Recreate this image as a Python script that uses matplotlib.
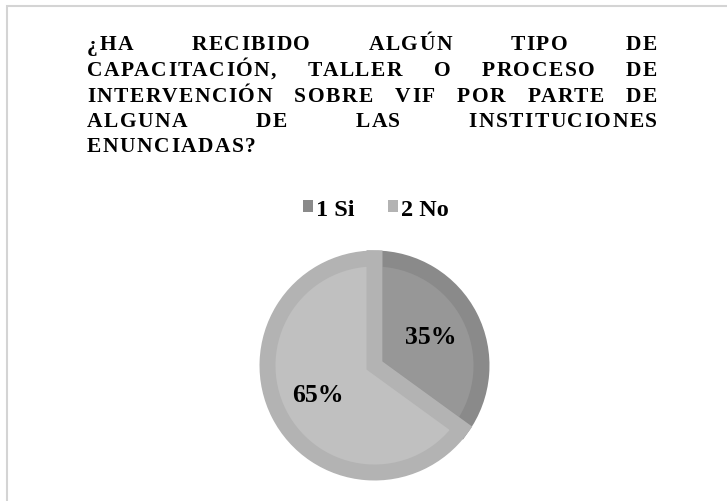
import matplotlib
matplotlib.use("Agg")
import matplotlib.pyplot as plt
from matplotlib.font_manager import FontProperties
from matplotlib.patches import Patch, Rectangle

# data
labels = ["1 Si", "2 No"]
values = [35, 65]
title_lines = [
    "¿HA RECIBIDO ALGÚN TIPO DE",
    "CAPACITACIÓN, TALLER O PROCESO DE",
    "INTERVENCIÓN SOBRE VIF POR PARTE DE",
    "ALGUNA DE LAS INSTITUCIONES",
    "ENUNCIADAS?",
]

band_colors = ["#8a8a8a", "#b3b3b3"]
fill_colors = ["#979797", "#c0c0c0"]

W, H = 727, 502
fig = plt.figure(figsize=(W / 100, H / 100), dpi=100)
fig.patch.set_facecolor("white")

# outer frame (runs off the right and bottom of the picture)
fig.patches.append(Rectangle((7 / W, -0.1), 1.2, 1 - 7 / H + 0.1, transform=fig.transFigure,
                             fill=False, edgecolor="#d4d4d4", lw=1.5))

# pie
cx, cy, r = 374.5, 366.5, 107
ax = fig.add_axes([(cx - r) / W, (H - cy - r) / H, 2 * r / W, 2 * r / H])
outer, _ = ax.pie(values, colors=band_colors, startangle=90, counterclock=False,
                  radius=1, wedgeprops=dict(lw=0))
inner, _, autotexts = ax.pie(values, colors=fill_colors, startangle=90, counterclock=False,
                             radius=1, autopct="%.0f%%", pctdistance=0.59,
                             textprops=dict(family="Liberation Serif", weight="bold",
                                            size=18.5, color="black"))
for w_out, w_in, bc in zip(outer, inner, band_colors):
    w_in.set_edgecolor(bc)
    w_in.set_linewidth(11.5)
    w_in.set_clip_path(w_out)
ax.set_xlim(-1, 1)
ax.set_ylim(-1, 1)
ax.axis("off")

# justified title with a little letter spacing, drawn char by char
fp = FontProperties(family="Liberation Serif", weight="bold", size=15.5)
renderer = fig.canvas.get_renderer()


def tw(s):
    if not s:
        return 0.0
    return renderer.get_text_width_height_descent(s, fp, ismath=False)[0]


def char_offsets(word):
    # left ink edge of each char inside the word, kerning kept
    return [tw(word[:k + 1]) - tw(word[k]) for k in range(len(word))]


t = 1.5          # extra spacing between letters
sp = 7.0         # normal word gap
x0, x1 = 87, 657
width = x1 - x0

baselines = [50.5, 76, 101.5, 127, 152.5]
for i, (line, yb) in enumerate(zip(title_lines, baselines)):
    words = line.split()
    wws = [tw(w) + t * (len(w) - 1) for w in words]
    if i < len(title_lines) - 1 and len(words) > 1:
        gap = (width - sum(wws)) / (len(words) - 1)
    else:
        gap = sp
    x = x0
    for w, ww in zip(words, wws):
        for k, off in enumerate(char_offsets(w)):
            fig.text((x + off + k * t) / W, 1 - yb / H, w[k], fontproperties=fp,
                     ha="left", va="baseline")
        x += ww + gap

# legend
handles = [Patch(facecolor=c, edgecolor="none") for c in band_colors]
fig.legend(handles, labels, loc="center", bbox_to_anchor=(376 / W, 1 - 210 / H), ncol=2,
           frameon=False, prop=FontProperties(family="Liberation Serif", weight="bold", size=17.5),
           handlelength=0.4, handleheight=0.4, handletextpad=0.15, columnspacing=1.35)

fig.savefig("out.png", dpi=100)
